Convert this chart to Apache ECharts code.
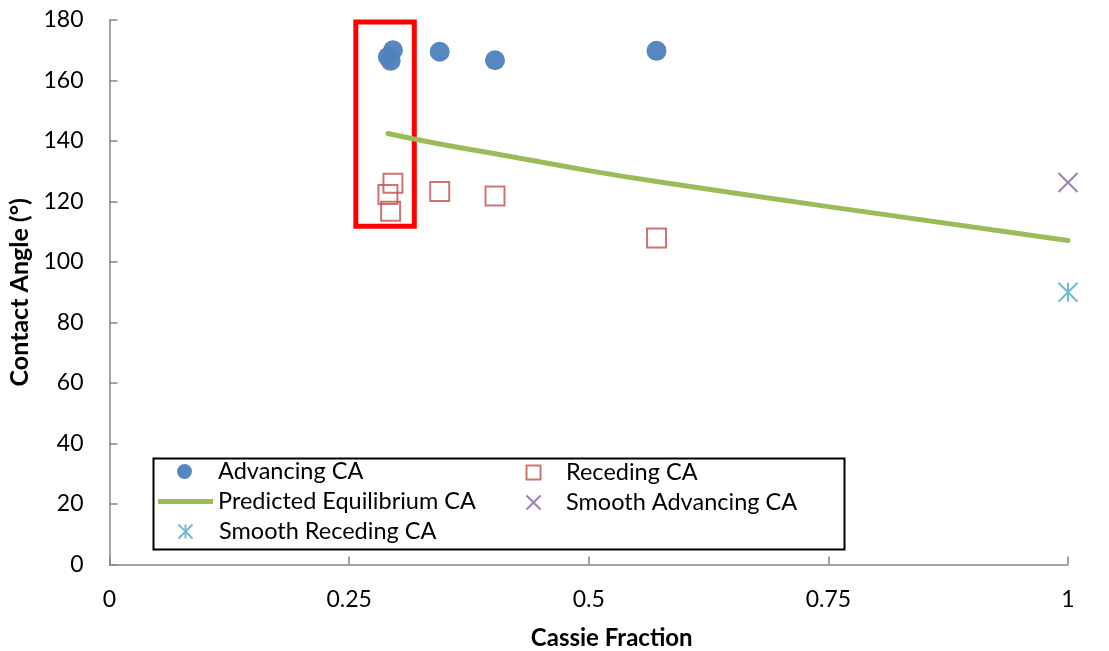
<!DOCTYPE html>
<html>
<head>
<meta charset="utf-8">
<script src="https://cdn.jsdelivr.net/npm/echarts@6/dist/echarts.min.js"></script>
<style>html,body{margin:0;padding:0;background:#fff}#c{width:1109px;height:651px}</style>
</head>
<body>
<div id="c"></div>
<script>
// Data
const advancingX = [0.2905, 0.2957, 0.2933, 0.3445, 0.4022, 0.5707];
const advancingY = [167.8, 170.0, 166.5, 169.5, 166.7, 169.8];
const recedingX = [0.2957, 0.2905, 0.2933, 0.3445, 0.4022, 0.5707];
const recedingY = [126.0, 122.3, 116.8, 123.3, 121.8, 107.9];
const predictedX = [0.2905, 0.3445, 0.4022, 0.5, 0.5707, 0.75, 1.0];
const predictedY = [142.5, 139.0, 135.8, 130.2, 126.6, 118.3, 107.1];
const smoothAdvX = [1.0];
const smoothAdvY = [126.3];
const smoothRecX = [1.0];
const smoothRecY = [90.0];
const highlightBox = [[0.257, 179.3], [0.318, 111.8]];
const xTicks = [0, 0.25, 0.5, 0.75, 1];
const yTicks = [0, 20, 40, 60, 80, 100, 120, 140, 160, 180];

const zip = (xs, ys) => xs.map((x, i) => [x, ys[i]]);
const FONT = 'Lato';
const names = ['Advancing CA', 'Receding CA', 'Predicted Equilibrium CA', 'Smooth Advancing CA', 'Smooth Receding CA'];

// symbol legend: icon centred at cx, text starting at tx
function symLegend(name, cx, cy, size, tx) {
  return {
    data: [name], left: cx - size / 2, top: cy - 13, padding: 0, selectedMode: false,
    itemWidth: size, itemHeight: size, itemGap: 0,
    textStyle: { fontFamily: FONT, fontSize: 23.5, color: '#000', lineHeight: 26,
                 padding: [0, 0, 0, tx - (cx + size / 2) - 5] }
  };
}

const chart = echarts.init(document.getElementById('c'), null, { renderer: 'canvas' });
chart.setOption({
  animation: false,
  backgroundColor: '#fff',
  textStyle: { fontFamily: FONT },
  grid: { left: 109.5, right: 41, top: 20, bottom: 86.5, containLabel: false, outerBoundsMode: 'none' },
  xAxis: {
    type: 'value', min: xTicks[0], max: xTicks[xTicks.length - 1], interval: 0.25,
    name: 'Cassie Fraction', nameLocation: 'middle', nameGap: 62,
    nameTextStyle: { fontFamily: FONT, fontSize: 24, fontWeight: 'bold', color: '#000',
                     padding: [0, 0, 0, 46] },
    axisLine: { lineStyle: { color: '#868686', width: 1.5 } },
    axisTick: { show: true, inside: true, length: 8, lineStyle: { color: '#868686', width: 1.5 } },
    axisLabel: { fontFamily: FONT, fontSize: 23, color: '#000', margin: 24 },
    splitLine: { show: false }
  },
  yAxis: {
    type: 'value', min: yTicks[0], max: yTicks[yTicks.length - 1], interval: 20,
    name: 'Contact Angle (°)', nameLocation: 'middle', nameGap: 76, nameRotate: 90,
    nameTextStyle: { fontFamily: FONT, fontSize: 25, fontWeight: 'bold', color: '#000' },
    axisLine: { show: true, lineStyle: { color: '#868686', width: 1.5 } },
    axisTick: { show: true, inside: true, length: 8, lineStyle: { color: '#868686', width: 1.5 } },
    axisLabel: { fontFamily: FONT, fontSize: 23, color: '#000', margin: 26 },
    splitLine: { show: false }
  },
  legend: [
    symLegend(names[0], 184.5, 471.5, 15, 218),
    symLegend(names[1], 532.5, 472.5, 14, 565),
    {
      data: [names[2]], left: 158, top: 501.5 - 13, padding: 0, selectedMode: false,
      icon: 'rect', itemWidth: 55, itemHeight: 5, itemGap: 0,
      textStyle: { fontFamily: FONT, fontSize: 23.5, color: '#000', lineHeight: 26, padding: [0, 0, 0, 0] }
    },
    symLegend(names[3], 532.5, 502.5, 14, 565),
    symLegend(names[4], 184.5, 531.5, 14, 218)
  ],
  graphic: [{
    type: 'rect', left: 151, top: 456, z: 100,
    shape: { width: 691, height: 91 },
    style: { fill: 'none', stroke: '#000', lineWidth: 2 }
  }],
  series: [
    {
      name: names[2], type: 'line', data: zip(predictedX, predictedY), smooth: true,
      symbol: 'none', color: '#9BBB59',
      lineStyle: { color: '#9BBB59', width: 5, cap: 'round' }, z: 2
    },
    {
      name: names[0], type: 'scatter', data: zip(advancingX, advancingY),
      symbol: 'circle', symbolSize: 20, color: '#4F81BD',
      itemStyle: { color: '#4F81BD', opacity: 0.95 }, z: 3,
      markArea: {
        silent: true,
        itemStyle: { color: 'rgba(0,0,0,0)', borderColor: '#FF0000', borderWidth: 5 },
        data: [[{ coord: highlightBox[0] }, { coord: highlightBox[1] }]]
      }
    },
    {
      name: names[1], type: 'scatter', data: zip(recedingX, recedingY),
      symbol: 'rect', symbolSize: 19, color: '#C0504D',
      itemStyle: { color: 'rgba(255,255,255,0)', borderColor: '#C0504D', borderWidth: 2 }, z: 3
    },
    {
      name: names[3], type: 'scatter', data: zip(smoothAdvX, smoothAdvY),
      symbol: 'path://M0,0L10,10M10,0L0,10', symbolSize: 19, color: '#8064A2',
      itemStyle: { color: 'rgba(0,0,0,0)', borderColor: '#8064A2', borderWidth: 2 }, z: 3
    },
    {
      name: names[4], type: 'scatter', data: zip(smoothRecX, smoothRecY),
      symbol: 'path://M0,0L10,10M10,0L0,10M5,0L5,10', symbolSize: 19, color: '#4BACC6',
      itemStyle: { color: 'rgba(0,0,0,0)', borderColor: '#4BACC6', borderWidth: 2 }, z: 3
    }
  ]
});
</script>
</body>
</html>
